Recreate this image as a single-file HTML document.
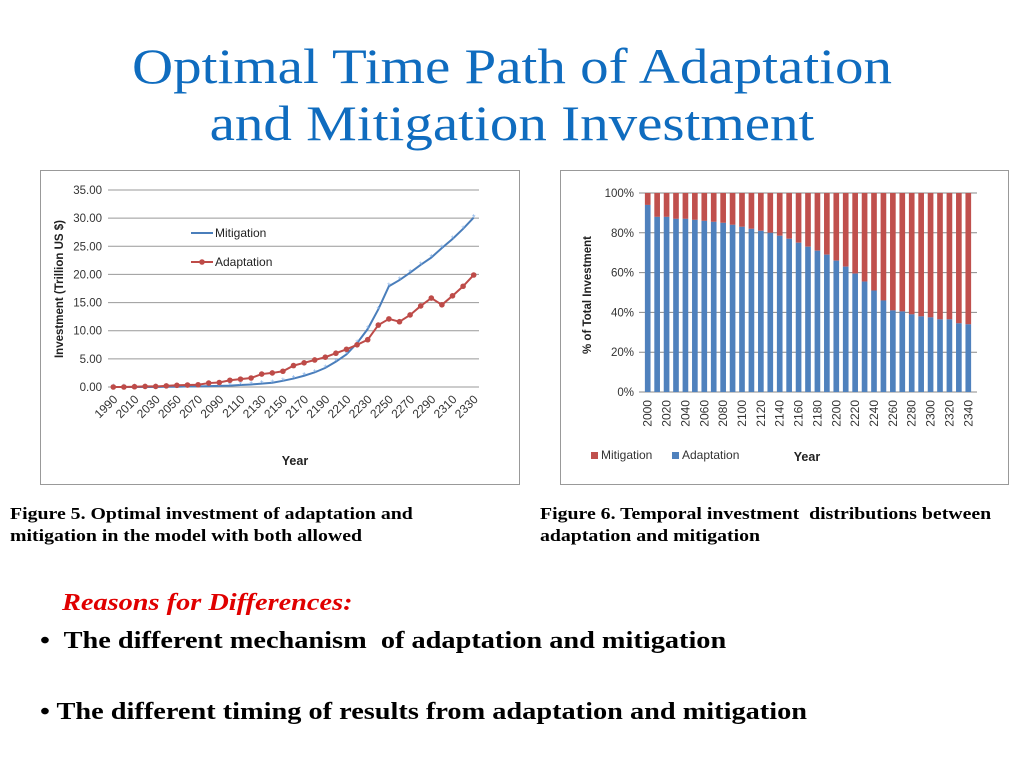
<!DOCTYPE html>
<html><head><meta charset="utf-8"><style>
body{margin:0;width:1024px;height:768px;background:#fff;position:relative;overflow:hidden;font-family:"Liberation Serif",serif}
.t{position:absolute;left:0;width:1024px;text-align:center;color:#0f6cbf;font-size:50px;line-height:57px;transform:scaleX(1.14);transform-origin:512px 0}
.cap{position:absolute;font-weight:bold;font-size:16.5px;line-height:22px;color:#000;transform:scaleX(1.2);transform-origin:0 0;white-space:nowrap}
.b{position:absolute;font-weight:bold;font-size:24px;color:#000;transform:scaleX(1.18);transform-origin:0 0;white-space:nowrap}
svg text{font-family:"Liberation Sans",sans-serif}
</style></head><body>
<div class="t" style="top:38px">Optimal Time Path of Adaptation<br>and Mitigation Investment</div>
<svg style="position:absolute;left:0;top:0" width="1024" height="500" id="s1"></svg>
<div class="cap" style="left:10px;top:503px">Figure 5. Optimal investment of adaptation and<br>mitigation in the model with both allowed</div>
<div class="cap" style="left:540px;top:503px">Figure 6. Temporal investment&nbsp; distributions between<br>adaptation and mitigation</div>
<div style="position:absolute;left:62px;top:590px;color:#e00000;font-style:italic;font-weight:bold;font-size:24px;transform:scaleX(1.18);transform-origin:0 0;white-space:nowrap">Reasons for Differences:</div>
<div class="b" style="left:40px;top:628px">•&nbsp; The different mechanism&nbsp; of adaptation and mitigation</div>
<div class="b" style="left:40px;top:699px">• The different timing of results from adaptation and mitigation</div>
<script>
const years1=[];for(let y=1990;y<=2330;y+=10)years1.push(y);
const mitigation=[0,0,0,0,0,0.05,0.05,0.1,0.1,0.15,0.2,0.25,0.35,0.45,0.6,0.75,1.1,1.5,2.0,2.6,3.4,4.5,5.8,7.8,10.3,13.8,17.9,19.0,20.3,21.7,23.0,24.7,26.3,28.1,30.1];
const adaptation=[0,0,0.05,0.1,0.1,0.2,0.3,0.35,0.4,0.7,0.8,1.2,1.4,1.6,2.3,2.5,2.8,3.8,4.3,4.8,5.3,6.0,6.7,7.5,8.4,11.0,12.1,11.6,12.8,14.4,15.8,14.6,16.2,17.9,19.9];
const yTicks1=[0,5,10,15,20,25,30,35];
const years2=[];for(let y=2000;y<=2340;y+=10)years2.push(y);
const adaptPct=[94,88,88,87,87,86.5,86,85.5,85,84,83,82,81,80,78.5,77,75,73,71,69,66,63,59.5,55.5,51,46,41,40.5,39,38,37.5,36.5,36.5,34.5,34];
const yTicks2=[0,20,40,60,80,100];
const s=document.getElementById('s1');const NS='http://www.w3.org/2000/svg';
function mk(t,a,txt){const e=document.createElementNS(NS,t);for(const k in a)e.setAttribute(k,a[k]);if(txt!==undefined)e.textContent=txt;s.appendChild(e);return e;}
let e=mk('rect',{x:40.5,y:170.5,width:479,height:314,fill:'#fff',stroke:'#999'});

const L=108,R=479,T=190,B=387;
const x1=i=>L+(R-L)/years1.length*(i+0.5);const y1=v=>B-(B-T)*v/35;
yTicks1.forEach(v=>{e=mk('line',{x1:L,x2:R,y1:y1(v),y2:y1(v),stroke:'#999'});
e=mk('text',{x:L-6,y:y1(v)+4,'text-anchor':'end','font-size':11.5,fill:'#333'},v.toFixed(2));});
years1.forEach((y,i)=>{if(i%2==0){e=mk('text',{x:x1(i)+5,y:B+13,'text-anchor':'end','font-size':12,fill:'#333',transform:`rotate(-45 ${x1(i)+5} ${B+13})`},y);}});
e=mk('text',{x:63,y:289,'text-anchor':'middle','font-size':11.5,'font-weight':'bold',fill:'#222',transform:'rotate(-90 63 289)'},'Investment (Trillion US $)');
e=mk('text',{x:295,y:465,'text-anchor':'middle','font-size':12.5,'font-weight':'bold',fill:'#222'},'Year');
function series(arr,col,name,mark){e=mk('polyline',{points:arr.map((v,i)=>x1(i)+','+y1(v)).join(' '),fill:'none',stroke:col,'stroke-width':2});
arr.forEach((v,i)=>{if(mark)e=mk('circle',{cx:x1(i),cy:y1(v),r:2.8,fill:col});else e=mk('text',{x:x1(i),y:y1(v)+3,'text-anchor':'middle','font-size':9,fill:'#8ab4e8'},'*');});}
series(mitigation,'#4a7ebb','mitigation',false);series(adaptation,'#be4b48','adaptation',true);
e=mk('line',{x1:191,x2:213,y1:233,y2:233,stroke:'#4a7ebb','stroke-width':2});
e=mk('text',{x:215,y:237,'font-size':12,fill:'#222'},'Mitigation');
e=mk('line',{x1:191,x2:213,y1:262,y2:262,stroke:'#be4b48','stroke-width':2});
e=mk('circle',{cx:202,cy:262,r:2.8,fill:'#be4b48'});
e=mk('text',{x:215,y:266,'font-size':12,fill:'#222'},'Adaptation');
e=mk('rect',{x:560.5,y:170.5,width:448,height:314,fill:'#fff',stroke:'#999'});
const L2=643,R2=973,T2=193,B2=392;const bw=(R2-L2)/years2.length;
const y2=v=>B2-(B2-T2)*v/100;
yTicks2.forEach(v=>{e=mk('line',{x1:L2-4,x2:R2+4,y1:y2(v),y2:y2(v),stroke:'#888'});
e=mk('text',{x:L2-9,y:y2(v)+4,'text-anchor':'end','font-size':11.5,fill:'#333'},v+'%');});
years2.forEach((y,i)=>{const x=L2+bw*i+bw*0.2,w=bw*0.6;
e=mk('rect',{x:x,y:y2(100),width:w,height:y2(adaptPct[i])-y2(100),fill:'#c0504d'});
e=mk('rect',{x:x,y:y2(adaptPct[i]),width:w,height:B2-y2(adaptPct[i]),fill:'#4f81bd'});
if(i%2==0){const cx=L2+bw*(i+0.5)+4;e=mk('text',{x:cx,y:B2+8,'text-anchor':'end','font-size':12,fill:'#333',transform:`rotate(-90 ${cx} ${B2+8})`},y);}});
e=mk('text',{x:591,y:295,'text-anchor':'middle','font-size':11.5,'font-weight':'bold',fill:'#222',transform:'rotate(-90 591 295)'},'% of Total Investment');
e=mk('rect',{x:591,y:452,width:7,height:7,fill:'#c0504d'});
e=mk('text',{x:601,y:459,'font-size':12,fill:'#333'},'Mitigation');
e=mk('rect',{x:672,y:452,width:7,height:7,fill:'#4f81bd'});
e=mk('text',{x:682,y:459,'font-size':12,fill:'#333'},'Adaptation');
e=mk('text',{x:807,y:461,'text-anchor':'middle','font-size':12.5,'font-weight':'bold',fill:'#222'},'Year');
</script>
</body></html>
